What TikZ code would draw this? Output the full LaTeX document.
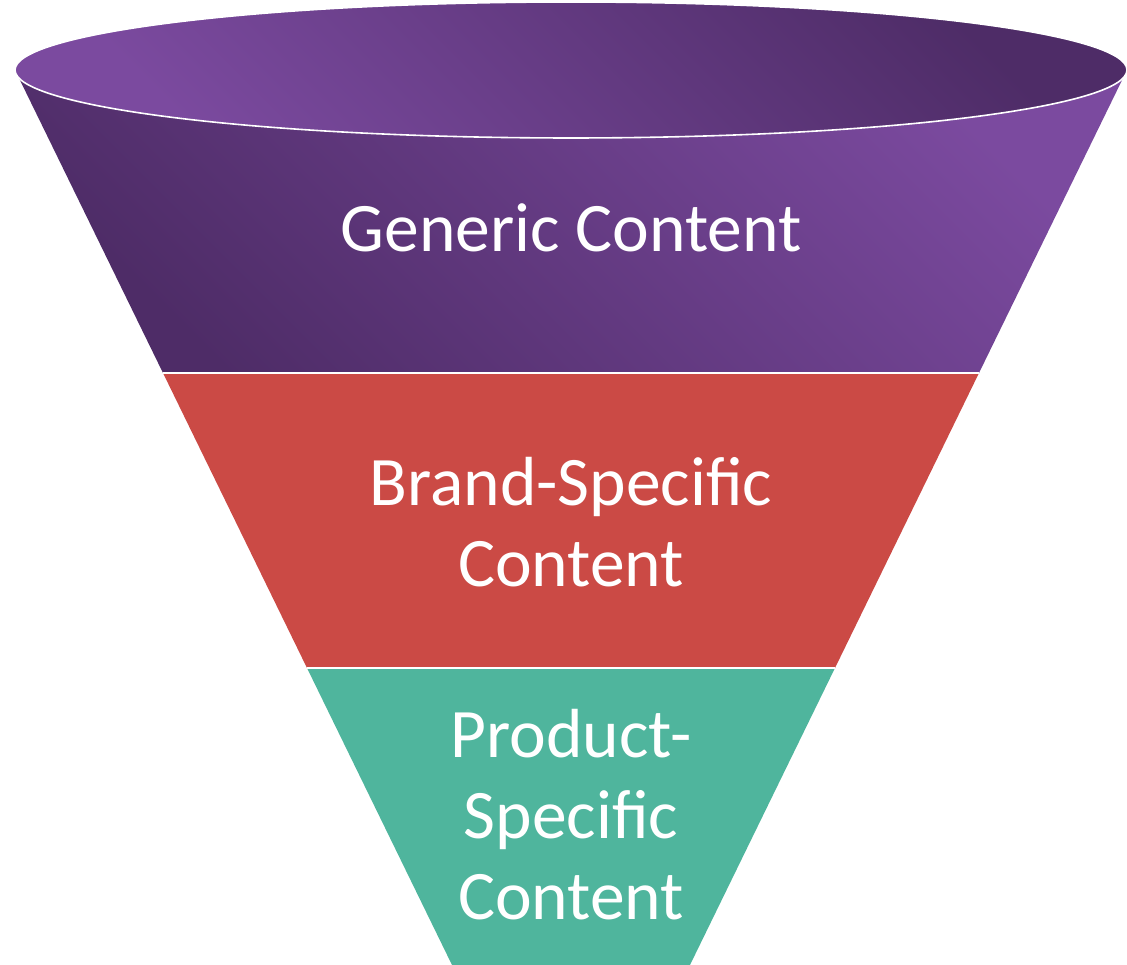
\documentclass[tikz,border=0pt]{standalone}
\usepackage{fontspec}
\setmainfont{Carlito}
\definecolor{plight}{HTML}{7B4A9F}
\definecolor{pdark}{HTML}{4E2C67}
\definecolor{fred}{HTML}{CB4A45}
\definecolor{fgreen}{HTML}{4FB59D}
\tikzset{
  lbl/.style={text=white, align=center, font=\fontsize{69.5}{81}\selectfont, inner sep=0pt},
  sep/.style={draw=white, line width=2.5pt},
}
\begin{document}
\begin{tikzpicture}[x=1pt,y=1pt]
\useasboundingbox (0,0) rectangle (1127,965);
% coordinates
\coordinate (tl) at (15,895);
\coordinate (tr) at (1127,895);
\coordinate (ml) at (163,592);
\coordinate (mr) at (979,592);
\coordinate (ll) at (307,297);
\coordinate (lr) at (835,297);
\coordinate (bl) at (452,0);
\coordinate (br) at (690,0);
% bands
\fill[fgreen] (ll) -- (lr) -- (br) -- (bl) -- cycle;
\fill[fred] (ml) -- (mr) -- (lr) -- (ll) -- cycle;
\shade[top color=plight, bottom color=pdark, shading angle=-45] (tl) -- (ml) -- (mr) -- (tr) -- cycle;
% top ellipse
\shade[top color=pdark, bottom color=plight, shading angle=-45] (571,895) ellipse [x radius=556, y radius=68];
\draw[white, line width=1.6pt] (571,895) ellipse [x radius=556, y radius=68];
% separators
\draw[sep] (ml) -- (mr);
\draw[sep] (ll) -- (lr);
% labels
\node[lbl] (generic) at (571,737) {Generic Content};
\node[lbl] (brand) at (571,443) {Brand-Specific\\Content};
\node[lbl] (product) at (571,150) {Product-\\Specific\\Content};
\end{tikzpicture}
\end{document}
